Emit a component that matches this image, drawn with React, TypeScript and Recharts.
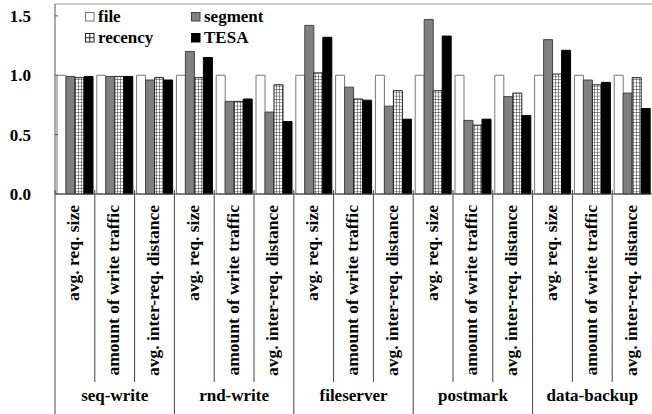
import { Bar, BarChart, Legend, ReferenceLine, XAxis, YAxis } from "recharts";

const workloads = ["seq-write", "rnd-write", "fileserver", "postmark", "data-backup"];
const metrics = ["avg. req. size", "amount of write traffic", "avg. inter-req. distance"];

// normalized to "file" = 1.0, 3 metrics per workload
const fileVals = [1, 1, 1, 1, 1, 1, 1, 1, 1, 1, 1, 1, 1, 1, 1];
const segmentVals = [0.99, 0.99, 0.96, 1.2, 0.78, 0.69, 1.42, 0.9, 0.74, 1.47, 0.62, 0.82, 1.3, 0.96, 0.85];
const recencyVals = [0.98, 0.99, 0.98, 0.98, 0.78, 0.92, 1.02, 0.8, 0.87, 0.87, 0.58, 0.85, 1.01, 0.92, 0.98];
const tesaVals = [0.99, 0.99, 0.96, 1.15, 0.8, 0.61, 1.32, 0.79, 0.63, 1.33, 0.63, 0.66, 1.21, 0.94, 0.72];
const yTicks = [0, 0.5, 1.0, 1.5];

const W = 652;
const H = 414;
const Y_W = 55;
const BOTTOM = 220;
const FONT = "'Liberation Serif', serif";

const data = workloads.flatMap((w, wi) =>
  metrics.map((m, mi) => {
    const i = wi * 3 + mi;
    return {
      key: `${w}/${m}`,
      metric: m,
      workload: w,
      file: fileVals[i],
      segment: segmentVals[i],
      recency: recencyVals[i],
      tesa: tesaVals[i],
    };
  })
);

const series = [
  { key: "file", name: "file", fill: "#fff", stroke: "#777" },
  { key: "segment", name: "segment", fill: "#808080", stroke: "#444" },
  { key: "recency", name: "recency", fill: "url(#grid)", stroke: "#222" },
  { key: "tesa", name: "TESA", fill: "#000", stroke: "#000" },
];

const band = (W - Y_W) / data.length;

function XTick(props: any) {
  const { x, y, payload } = props;
  const i = payload.index;
  const row = data[i];
  const left = x - band / 2;
  const isGroupStart = i % 3 === 0;
  return (
    <g>
      <line x1={left} x2={left} y1={y - 4} y2={isGroupStart ? H : y + 188} stroke="#444" strokeWidth={1} />
      <text
        transform={`translate(${x + 4.5},${y + 11}) rotate(-90)`}
        textAnchor="end"
        fontFamily={FONT}
        fontWeight="bold"
        fontSize={17.5}
        fill="#000"
      >
        {row.metric}
      </text>
      {i % 3 === 1 ? (
        <text x={x} y={y + 207} textAnchor="middle" fontFamily={FONT} fontWeight="bold" fontSize={17} fill="#000">
          {row.workload}
        </text>
      ) : null}
    </g>
  );
}

function YTick(props: any) {
  const { x, y, payload } = props;
  return (
    <g>
      <line x1={Y_W} x2={Y_W + 3} y1={y} y2={y} stroke="#555" />
      <text x={x} y={y + 6} textAnchor="end" fontFamily={FONT} fontWeight="bold" fontSize={17} fill="#000">
        {Number(payload.value).toFixed(1)}
      </text>
    </g>
  );
}

function LegendBox() {
  const icon = (s: (typeof series)[number]) => (
    <svg width={10} height={10} style={{ marginRight: 3 }}>
      <rect x={0.5} y={0.5} width={8.5} height={8.5} fill={s.fill === "url(#grid)" ? "#fff" : s.fill} stroke={s.stroke} />
      {s.fill === "url(#grid)" ? (
        <path d="M4.75 0.5V9M0.5 4.75H9" stroke="#222" strokeWidth={1} />
      ) : null}
    </svg>
  );
  return (
    <div
      style={{
        display: "grid",
        gridTemplateColumns: "106px 90px",
        rowGap: 1,
        fontFamily: FONT,
        fontWeight: "bold",
        fontSize: 17,
        lineHeight: "20px",
      }}
    >
      {series.map((s) => (
        <div key={s.key} style={{ display: "flex", alignItems: "center" }}>
          {icon(s)}
          <span>{s.name}</span>
        </div>
      ))}
    </div>
  );
}

export default function App() {
  return (
    <div style={{ position: "absolute", left: 0, top: 0, background: "#fff" }}>
      <BarChart
        width={W}
        height={H}
        data={data}
        margin={{ top: 4, right: 0, left: 0, bottom: 0 }}
        barCategoryGap={2}
        barGap={0}
      >
        <defs>
          <pattern id="grid" patternUnits="userSpaceOnUse" width={3} height={3.3}>
            <rect width={3} height={3.3} fill="#fff" />
            <path d="M0 0H3M0 0V3.3" stroke="#111" strokeWidth={0.9} />
          </pattern>
        </defs>
        <ReferenceLine y={1.6} stroke="#999" strokeWidth={1} />
        <XAxis
          dataKey="key"
          interval={0}
          tickLine={false}
          tickSize={0}
          tickMargin={0}
          axisLine={{ stroke: "#444" }}
          tick={<XTick />}
          height={BOTTOM}
        />
        <YAxis
          width={Y_W}
          domain={[0, 1.6]}
          ticks={yTicks}
          tickLine={false}
          tickMargin={18}
          axisLine={{ stroke: "#555" }}
          tick={<YTick />}
        />
        <Legend
          layout="horizontal"
          verticalAlign="middle"
          align="center"
          content={<LegendBox />}
          wrapperStyle={{ position: "absolute", top: 7, left: 85, width: 200 }}
        />
        {series.map((s) => (
          <Bar
            key={s.key}
            dataKey={s.key}
            name={s.name}
            fill={s.fill}
            stroke={s.stroke}
            strokeWidth={1}
            isAnimationActive={false}
          />
        ))}
      </BarChart>
    </div>
  );
}
